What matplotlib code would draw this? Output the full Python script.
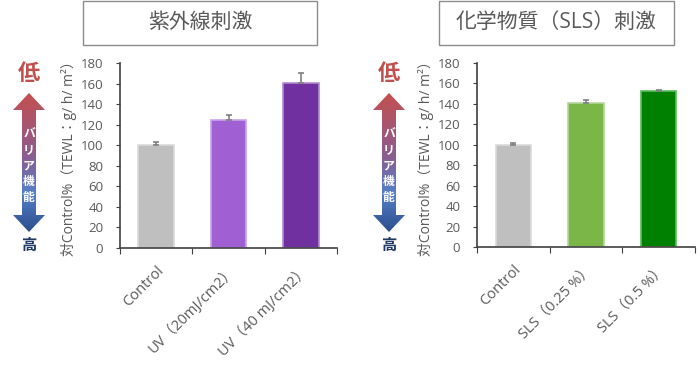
import matplotlib
matplotlib.use("Agg")
import matplotlib.pyplot as plt
import numpy as np
from matplotlib.colors import LinearSegmentedColormap
from matplotlib.patches import Polygon, Rectangle

plt.rcParams["font.family"] = ["Open Sans", "Noto Sans CJK JP", "DejaVu Sans"]
CJK = ["Noto Sans CJK JP", "DejaVu Sans"]

# --- データ ---------------------------------------------------------------
uv_labels = ["Control", "UV（20mJ/cm2）", "UV（40 mJ/cm2）"]
uv_values = [100, 125, 161]
uv_errors = [3.5, 4, 9.5]
uv_colors = ["#BFBFBF", "#A05FD2", "#7030A0"]
uv_edges = ["#DADADA", "#C9A3EA", "#B08ACF"]

sls_labels = ["Control", "SLS（0.25 %）", "SLS（0.5 %）"]
sls_values = [100, 141, 153]
sls_errors = [1.5, 2.5, 1]
sls_colors = ["#BFBFBF", "#7AB648", "#008000"]
sls_edges = ["#DADADA", "#B2D89A", "#5DBB5D"]

titles = ["紫外線刺激", "化学物質（SLS）刺激"]
ylabel = "対Control%（TEWL：g/ h/ m²）"
yticks = [0, 20, 40, 60, 80, 100, 120, 140, 160, 180]

TEXT = "#595959"
SPINE = "#404040"

fig = plt.figure(figsize=(7, 3.78), dpi=100)

# 画面全体のピクセル座標用オーバーレイ（矢印とタイトル枠）
ov = fig.add_axes([0, 0, 1, 1])
ov.set_xlim(0, 700)
ov.set_ylim(378, 0)
ov.axis("off")

arrow_cmap = LinearSegmentedColormap.from_list(
    "barrier", [(0, "#C4504F"), (0.45, "#8C5C8F"), (0.72, "#5580C8"), (1.0, "#2C4E8C")]
)


def draw_barrier_arrow(cx):
    top, bottom, head, half_head, half_shaft = 93, 232, 17, 16, 7
    pts = [
        (cx, top), (cx + half_head, top + head), (cx + half_shaft, top + head),
        (cx + half_shaft, bottom - head), (cx + half_head, bottom - head), (cx, bottom),
        (cx - half_head, bottom - head), (cx - half_shaft, bottom - head),
        (cx - half_shaft, top + head), (cx - half_head, top + head),
    ]
    poly = Polygon(pts, closed=True, facecolor="none", edgecolor="none")
    ov.add_patch(poly)
    grad = np.linspace(0, 1, 256).reshape(-1, 1)
    im = ov.imshow(grad, cmap=arrow_cmap, aspect="auto",
                   extent=(cx - half_head, cx + half_head, bottom, top), interpolation="bicubic")
    im.set_clip_path(poly)
    ov.text(cx, 74, "低", color="#C0504D", fontsize=16, fontweight="bold", ha="center", va="center",
            family=CJK)
    ov.text(cx, 245, "高", color="#1F3864", fontsize=11, fontweight="bold", ha="center", va="center",
            family=CJK)
    for i, ch in enumerate("バリア機能"):
        ov.text(cx, 134 + i * 16, ch, color="white", fontsize=8.5, fontweight="bold",
                ha="center", va="center", family=CJK)


def draw_title_box(x0, x1, text):
    ov.add_patch(Rectangle((x0, 0.5), x1 - x0, 44, facecolor="white", edgecolor="#8C8C8C", linewidth=1))
    ov.text((x0 + x1) / 2, 22.5, text, color=TEXT, fontsize=15, ha="center", va="center")


def draw_bars(rect, labels, values, errors, colors, edges):
    ax = fig.add_axes(rect)
    x = np.arange(len(values))
    ax.bar(x, values, width=0.49, color=colors, edgecolor=edges, linewidth=1.2, zorder=2)
    ax.errorbar(x, values, yerr=[np.zeros(len(errors)), errors], fmt="none",
                ecolor="#7F7F7F", elinewidth=1.2, capsize=2.5, capthick=1.2, zorder=3)
    ax.set_xlim(-0.5, len(values) - 0.5)
    ax.set_ylim(0, 180)
    ax.set_yticks(yticks)
    ax.set_xticks(np.arange(len(values) + 1) - 0.5)
    ax.set_xticklabels([])
    ax.set_xticks(x, minor=True)
    ax.set_xticklabels(labels, minor=True, rotation=45, ha="right", va="top",
                       rotation_mode="anchor", fontsize=10.5, color=TEXT)
    ax.tick_params(axis="x", which="minor", length=0, pad=11)
    ax.tick_params(axis="x", which="major", length=4, color=SPINE, direction="out")
    ax.tick_params(axis="y", length=3, color=SPINE, labelsize=9.5, labelcolor=TEXT, pad=9)
    for side in ("top", "right"):
        ax.spines[side].set_visible(False)
    for side in ("left", "bottom"):
        ax.spines[side].set_color(SPINE)
        ax.spines[side].set_linewidth(1.2)
    ax.set_ylabel(ylabel, fontsize=10, color=TEXT, labelpad=3)
    return ax


draw_title_box(83, 317, titles[0])
draw_title_box(439, 674, titles[1])
draw_barrier_arrow(29)
draw_barrier_arrow(389)

draw_bars([120 / 700, 130 / 378, 217 / 700, 185 / 378], uv_labels, uv_values, uv_errors, uv_colors, uv_edges)
draw_bars([477 / 700, 131 / 378, 218 / 700, 184 / 378], sls_labels, sls_values, sls_errors, sls_colors, sls_edges)

fig.savefig("out.png", dpi=100)
